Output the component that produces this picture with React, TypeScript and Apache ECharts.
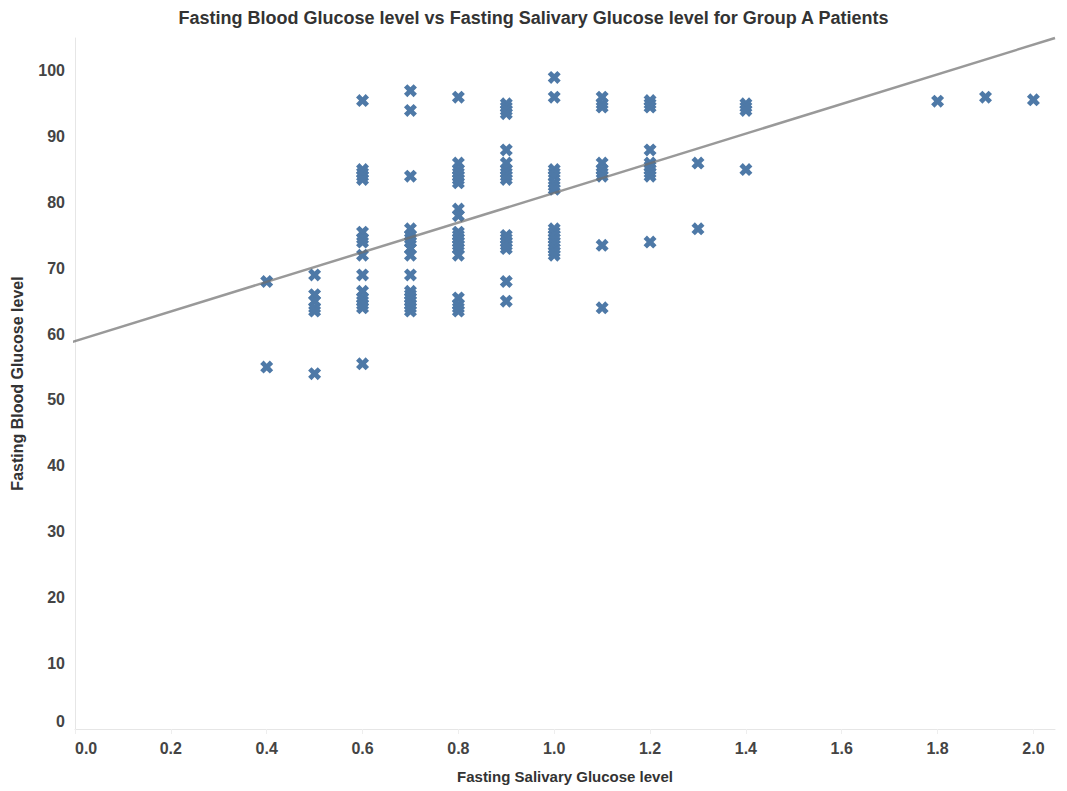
import React, { useEffect, useRef } from "react";
import * as echarts from "echarts";

const chartTitle = "Fasting Blood Glucose level vs Fasting Salivary Glucose level for Group A Patients";
const xAxisTitle = "Fasting Salivary Glucose level";
const yAxisTitle = "Fasting Blood Glucose level";

const xTicks = [0, 0.2, 0.4, 0.6, 0.8, 1.0, 1.2, 1.4, 1.6, 1.8, 2.0];
const yTicks = [0, 10, 20, 30, 40, 50, 60, 70, 80, 90, 100];

const salivaryLevels = [0.4, 0.5, 0.6, 0.7, 0.8, 0.9, 1.0, 1.1, 1.2, 1.3, 1.4, 1.8, 1.9, 2.0];
const g04 = [68, 55];
const g05 = [69, 66, 65, 64, 63.5, 54];
const g06 = [95.5, 85, 84.5, 84, 83.5, 75.5, 74.5, 74, 72, 69, 66.5, 65.5, 65, 64.5, 64, 55.5];
const g07 = [97, 94, 84, 76, 75, 74.5, 74, 73, 72, 69, 66.5, 66, 65.5, 65, 64.5, 64, 63.5];
const g08 = [96, 86, 85, 84.5, 84, 83.5, 83, 79, 78, 75.5, 75, 74.5, 74, 73.5, 73, 72, 65.5, 64.5, 64, 63.5];
const g09 = [95, 94.5, 94, 93.5, 88, 86, 85, 84.5, 84, 83.5, 75, 74.5, 74, 73.5, 73, 68, 65];
const g10 = [99, 96, 85, 84.5, 84, 83, 82.5, 82, 76, 75.5, 75, 74.5, 74, 73.5, 73, 72.5, 72];
const g11 = [96, 95, 94.5, 86, 85, 84.5, 84, 73.5, 64];
const g12 = [95.5, 95, 94.5, 88, 86, 85.5, 85, 84.5, 84, 74];
const g13 = [86, 76];
const g14 = [95, 94.5, 94, 85];
const g18 = [95.4];
const g19 = [96];
const g20 = [95.6];
const bloodGlucoseByLevel = [g04, g05, g06, g07, g08, g09, g10, g11, g12, g13, g14, g18, g19, g20];

// trend line end points (x, y)
const trendX = [-0.037, 2.045];
const trendY = [58.1, 105];

const CROSS =
  "path://M2.6,0 L5,2.4 L7.4,0 L10,2.6 L7.6,5 L10,7.4 L7.4,10 L5,7.6 L2.6,10 L0,7.4 L2.4,5 L0,2.6 Z";

export default function App() {
  const ref = useRef<HTMLDivElement>(null);
  useEffect(() => {
    if (!ref.current) return;
    const chart = echarts.init(ref.current, undefined, { renderer: "svg" });
    const points: number[][] = [];
    salivaryLevels.forEach((x, i) => {
      bloodGlucoseByLevel[i].forEach((y) => points.push([x, y]));
    });
    const trend = trendX.map((x, i) => [x, trendY[i]]);
    const font = "'Liberation Sans', Arial, sans-serif";
    chart.setOption({
      animation: false,
      backgroundColor: "#ffffff",
      title: {
        text: chartTitle,
        left: "center",
        top: 4,
        textStyle: { fontFamily: font, fontSize: 18, fontWeight: "bold", color: "#333" },
      },
      grid: { left: 75, right: 12, top: 38, bottom: 62 },
      xAxis: {
        type: "value",
        min: 0,
        max: 2.045,
        name: xAxisTitle,
        nameLocation: "middle",
        nameGap: 40,
        nameTextStyle: { fontFamily: font, fontSize: 15, fontWeight: "bold", color: "#333" },
        splitLine: { show: false },
        axisLine: { show: true, lineStyle: { color: "#e6e6e6", width: 1 } },
        axisTick: { show: true, length: 5, lineStyle: { color: "#eeeeee" }, customValues: xTicks },
        axisLabel: {
          customValues: xTicks,
          margin: 11,
          fontFamily: font,
          fontSize: 16,
          fontWeight: "bold",
          color: "#444",
          alignMinLabel: "left",
          formatter: (v: number) => v.toFixed(1),
        },
      },
      yAxis: {
        type: "value",
        min: 0,
        max: 105,
        name: yAxisTitle,
        nameLocation: "middle",
        nameGap: 50,
        nameRotate: 90,
        nameTextStyle: { fontFamily: font, fontSize: 16, fontWeight: "bold", color: "#333" },
        splitLine: { show: false },
        axisLine: { show: true, lineStyle: { color: "#e6e6e6", width: 1 } },
        axisTick: { show: false },
        axisLabel: {
          customValues: yTicks,
          margin: 10,
          fontFamily: font,
          fontSize: 16,
          fontWeight: "bold",
          color: "#444",
          verticalAlignMinLabel: "bottom",
        },
      },
      series: [
        {
          type: "scatter",
          data: points,
          symbol: CROSS,
          symbolSize: 13,
          itemStyle: { color: "#4e79a7", opacity: 1 },
          z: 2,
        },
        {
          type: "line",
          data: trend,
          symbol: "none",
          clip: false,
          lineStyle: { color: "rgba(110,110,110,0.7)", width: 2.5 },
          z: 3,
        },
      ],
    });
    return () => chart.dispose();
  }, []);
  return (
    <div
      ref={ref}
      style={{ position: "absolute", left: 0, top: 0, width: 1067, height: 791 }}
    />
  );
}
